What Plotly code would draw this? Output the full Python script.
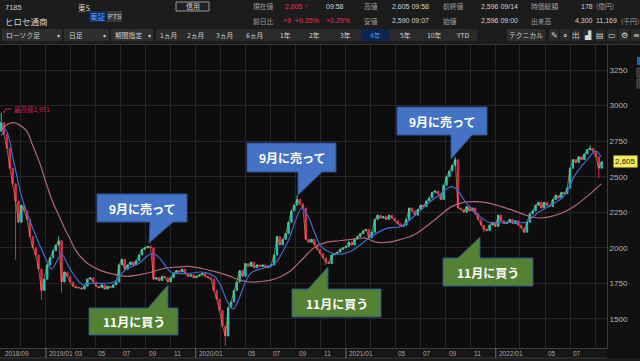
import plotly.graph_objects as go
import pandas as pd

# ---------------- data ----------------
closes = [
    2880, 2800, 2700, 2560, 2450, 2330, 2180, 2300, 2260, 2200,
    2080, 2000, 1950, 1850, 1700, 1780, 1880, 1930, 1980, 2020,
    2050, 1760, 1830, 1800, 1760, 1730, 1720, 1720, 1710, 1730,
    1780, 1790, 1760, 1730, 1720, 1740, 1710, 1730, 1720, 1740,
    1760, 1880, 1920, 1850, 1880, 1900, 1880, 1910, 1950, 1990,
    2000, 2010, 2000, 1780, 1790, 1770, 1800, 1790, 1760, 1790,
    1820, 1840, 1830, 1850, 1820, 1800, 1810, 1790, 1800, 1810,
    1820, 1800, 1790, 1780, 1700, 1640, 1560, 1450, 1380, 1580,
    1620, 1700, 1760, 1840, 1800, 1890, 1870, 1900, 1860, 1880,
    1870, 1880, 1860, 1870, 1880, 1950, 2080, 2020, 2060, 2100,
    2180, 2260, 2300, 2340, 2310, 2280, 2060, 2040, 2060, 2020,
    1990, 1960, 1930, 1900, 1890, 1950, 1960, 1970, 1990, 2000,
    2010, 2040, 2020, 2060, 2080, 2100, 2120, 2130, 2070, 2110,
    2200, 2230, 2210, 2220, 2200, 2230, 2210, 2190, 2170, 2150,
    2160, 2200, 2280, 2260, 2230, 2270, 2300, 2290, 2330, 2350,
    2390, 2400, 2380, 2340, 2440, 2500, 2540, 2580, 2620, 2280,
    2270, 2250, 2290, 2260, 2280, 2240, 2200, 2160, 2130, 2120,
    2160, 2180, 2150, 2230, 2190, 2170, 2180, 2200, 2170, 2190,
    2160, 2140, 2110, 2180, 2240, 2260, 2300, 2320, 2280, 2320,
    2300, 2290, 2340, 2370, 2350, 2390, 2380, 2420, 2560, 2620,
    2600, 2640, 2620, 2660, 2690, 2700, 2680, 2640, 2560, 2605,
]
first_open = 2820
wick_high_idx = [0, 20, 52, 103, 158, 205]
wick_high_val = [2951, 2080, 2020, 2370, 2640, 2720]
wick_low_idx = [5, 14, 21, 78, 113, 168, 182, 208]
wick_low_val = [1917, 1636, 1685, 1310, 1880, 2110, 2100, 2490]

blue_dates = ["2018-09-14", "2018-09-25", "2018-10-15", "2018-11-01", "2018-11-15", "2018-12-01",
              "2018-12-15", "2019-01-01", "2019-01-15", "2019-02-01", "2019-02-10", "2019-02-25",
              "2019-03-15", "2019-04-01", "2019-04-15", "2019-05-15", "2019-06-15", "2019-07-15",
              "2019-08-15", "2019-09-15", "2019-10-01", "2019-10-15", "2019-11-01", "2019-11-15",
              "2019-12-15", "2020-01-15", "2020-02-15", "2020-03-01", "2020-03-15", "2020-04-01",
              "2020-04-15", "2020-05-01", "2020-05-15", "2020-06-15", "2020-07-15", "2020-08-01",
              "2020-08-15", "2020-09-01", "2020-09-15", "2020-10-01", "2020-10-15", "2020-11-01",
              "2020-11-15", "2020-12-15", "2021-01-15", "2021-02-15", "2021-03-15", "2021-04-15",
              "2021-05-15", "2021-06-15", "2021-07-15", "2021-08-15", "2021-09-15", "2021-10-01",
              "2021-10-15", "2021-11-01", "2021-11-15", "2021-12-15", "2022-01-15", "2022-02-15",
              "2022-03-15", "2022-04-15", "2022-05-15", "2022-06-15", "2022-07-15", "2022-08-15",
              "2022-09-01", "2022-09-15"]
blue_vals = [2790, 2830, 2600, 2380, 2250, 2130,
             2030, 1920, 1850, 1930, 1950, 1870,
             1790, 1740, 1750, 1750, 1760, 1850,
             1890, 1960, 1940, 1890, 1830, 1820,
             1820, 1830, 1800, 1740, 1640, 1570,
             1640, 1760, 1825, 1860, 1900, 1980,
             2060, 2200, 2280, 2220, 2120, 2010,
             1980, 1955, 1980, 2045, 2100, 2140,
             2150, 2220, 2300, 2370, 2430, 2400,
             2340, 2280, 2240, 2180, 2180, 2180,
             2180, 2250, 2300, 2360, 2520, 2630,
             2680, 2640]

pink_dates = ["2018-09-12", "2018-09-25", "2018-10-10", "2018-10-25", "2018-11-15", "2018-12-01",
              "2018-12-15", "2019-01-01", "2019-01-15", "2019-02-01", "2019-02-15", "2019-03-01",
              "2019-03-15", "2019-04-01", "2019-04-15", "2019-05-15", "2019-06-15", "2019-07-15",
              "2019-08-15", "2019-09-15", "2019-10-15", "2019-11-15", "2019-12-15", "2020-01-15",
              "2020-02-15", "2020-03-15", "2020-04-15", "2020-05-15", "2020-06-15", "2020-07-15",
              "2020-08-15", "2020-09-15", "2020-10-15", "2020-11-15", "2020-12-15", "2021-01-15",
              "2021-02-15", "2021-03-15", "2021-04-15", "2021-05-15", "2021-06-15", "2021-07-15",
              "2021-08-15", "2021-09-15", "2021-10-15", "2021-11-15", "2021-12-15", "2022-01-15",
              "2022-02-15", "2022-03-15", "2022-04-15", "2022-05-15", "2022-06-15", "2022-07-15",
              "2022-08-15", "2022-09-15"]
pink_vals = [2820, 2860, 2880, 2870, 2820, 2710,
             2610, 2460, 2340, 2230, 2140, 2060,
             1980, 1920, 1885, 1840, 1815, 1800,
             1810, 1830, 1855, 1865, 1870, 1855,
             1835, 1810, 1775, 1760, 1765, 1785,
             1830, 1915, 2000, 2040, 2050, 2060,
             2070, 2040, 2040, 2060, 2090, 2150,
             2220, 2290, 2320, 2325, 2315, 2290,
             2260, 2230, 2210, 2220, 2250, 2300,
             2370, 2450]

y_ticks = [1500, 1750, 2000, 2250, 2500, 2750, 3000, 3250]
x_label_dates = ["2019-01-01", "2019-03-01", "2019-05-01", "2019-07-01", "2019-09-01", "2019-11-01",
                 "2020-01-01", "2020-05-01", "2020-07-01", "2020-09-01", "2020-11-01",
                 "2021-01-01", "2021-05-01", "2021-07-01", "2021-09-01", "2021-11-01",
                 "2022-01-01", "2022-05-01", "2022-07-01"]
x_label_text = ["2019/01", "03", "05", "07", "09", "11",
                "2020/01", "05", "07", "09", "11",
                "2021/01", "05", "07", "09", "11",
                "2022/01", "05", "07"]
year_starts = ["2019-01-01", "2020-01-01", "2021-01-01", "2022-01-01"]
last_price = 2605

callouts = [  # box x0,y0,x1,y1 (px), tail base xa,xb, tip x,y, kind, text
    (97, 194, 187, 222, 150, 173, 149, 243, "sell", "9月に売って"),
    (89, 308, 178, 335, 148, 168, 168, 285, "buy", "11月に買う"),
    (247, 143, 336, 172, 298, 322, 298, 195, "sell", "9月に売って"),
    (292, 289, 381, 317, 308, 328, 328, 267, "buy", "11月に買う"),
    (397, 107, 487, 135, 451, 472, 451, 159, "sell", "9月に売って"),
    (443, 258, 533, 286, 458, 480, 480, 237, "buy", "11月に買う"),
]

# ---------------- build ----------------
JP = "Noto Sans CJK JP"
NUM = "Liberation Sans"
week_dates = pd.date_range("2018-09-14", periods=len(closes), freq="7D")
opens = [first_open] + closes[:-1]
highs = [max(o, c) for o, c in zip(opens, closes)]
lows = [min(o, c) for o, c in zip(opens, closes)]
for i, v in zip(wick_high_idx, wick_high_val):
    highs[i] = v
for i, v in zip(wick_low_idx, wick_low_val):
    lows[i] = v

PR, PT, PB = 607, 45, 348


def X(px):
    return px / PR


def Y(py):
    return (PB - py) / (PB - PT)


fig = go.Figure()
fig.add_trace(go.Candlestick(
    x=week_dates, open=opens, high=highs, low=lows, close=closes,
    increasing=dict(line=dict(color="#22c4bd", width=1), fillcolor="#22c4bd"),
    decreasing=dict(line=dict(color="#e0285a", width=1), fillcolor="#e0285a"),
    whiskerwidth=0, hoverinfo="skip"))
fig.add_trace(go.Scatter(x=week_dates, y=closes, mode="lines",
                         line=dict(color="#d6c23a", width=1), opacity=0.55, hoverinfo="skip"))
fig.add_trace(go.Scatter(x=pink_dates, y=pink_vals, mode="lines", line_shape="spline",
                         line=dict(color="#b46676", width=1.2), hoverinfo="skip"))
fig.add_trace(go.Scatter(x=blue_dates, y=blue_vals, mode="lines", line_shape="spline",
                         line=dict(color="#3a6ed2", width=1.2), hoverinfo="skip"))

shapes = []
ann = []


def rect(x0, y0, x1, y1, fill, line=None, lw=1):
    shapes.append(dict(type="rect", xref="paper", yref="paper",
                       x0=X(x0), x1=X(x1), y0=Y(y1), y1=Y(y0), fillcolor=fill,
                       line=dict(color=line or fill, width=lw if line else 0), layer="below"))


def txt(x, y, s, size=8, color="#cfcfcf", anchor="left", family=JP):
    ann.append(dict(x=X(x), y=Y(y), xref="paper", yref="paper", text=s, showarrow=False,
                    xanchor=anchor, yanchor="middle", font=dict(size=size, color=color, family=family)))


# header background
rect(0, 0, 640, 44, "#1c1c1c")
rect(0, 44, 640, 45, "#333333")
# bottom label band
rect(0, 348, 607, 358, "#161616")
rect(0, 358, 640, 361, "#1c1c1c")
shapes.append(dict(type="line", xref="paper", yref="paper", x0=0, x1=X(607), y0=Y(358), y1=Y(358),
                   line=dict(color="#3a3a3a", width=1)))
for d in year_starts:
    shapes.append(dict(type="line", xref="x", yref="paper", x0=d, x1=d, y0=Y(348), y1=Y(358),
                       line=dict(color="#707070", width=1)))
# right-edge panel remnants
rect(637, 57, 640, 65, "#1f5fbf")
rect(637, 68, 640, 77, "#2e2e2e", "#555555")
rect(637, 79, 640, 88, "#2e2e2e", "#555555")

# x labels
LBL = dict(size=6.5, color="#a8a8a8", family=NUM)
ann.append(dict(x=X(3), y=Y(353), xref="paper", yref="paper", text="2018/09", showarrow=False,
                xanchor="left", yanchor="middle", font=LBL))
for d, t in zip(x_label_dates, x_label_text):
    shift = 3 if t == "03" else 1
    ann.append(dict(x=d, y=Y(353), xref="x", yref="paper", text=t, showarrow=False, xshift=shift,
                    xanchor="left", yanchor="middle", font=LBL))

# last price tag
ann.append(dict(x=X(613), y=last_price, xref="paper", yref="y", text="2,605", showarrow=False,
                xanchor="left", yanchor="middle", bgcolor="#f3ea5c", borderpad=1,
                font=dict(size=8, color="#222222", family=NUM)))

# max marker
shapes.append(dict(type="path", xref="paper", yref="paper",
                   path=f"M {X(4)},{Y(112)} L {X(6)},{Y(109)} L {X(11)},{Y(109)}",
                   line=dict(color="#c8205a", width=1)))
shapes.append(dict(type="circle", xref="paper", yref="paper", x0=X(3), x1=X(5), y0=Y(113), y1=Y(111),
                   fillcolor="#c8205a", line=dict(width=0)))
txt(12, 109, "最高値2,951", size=6.5, color="#c8205a")

# callouts
for (bx0, by0, bx1, by1, ta, tb, tx, ty, kind, s) in callouts:
    fill = "#4472c4" if kind == "sell" else "#548235"
    if kind == "sell":
        pts = [(bx0, by0), (bx1, by0), (bx1, by1), (tb, by1), (tx, ty), (ta, by1), (bx0, by1)]
    else:
        pts = [(bx0, by0), (ta, by0), (tx, ty), (tb, by0), (bx1, by0), (bx1, by1), (bx0, by1)]
    path = "M " + " L ".join(f"{X(a)},{Y(b)}" for a, b in pts) + " Z"
    shapes.append(dict(type="path", xref="paper", yref="paper", path=path, fillcolor=fill,
                       line=dict(color="#2f528f", width=1), layer="above"))
    ann.append(dict(x=X((bx0 + bx1) / 2), y=Y((by0 + by1) / 2), xref="paper", yref="paper",
                    text=f"<b>{s}</b>", showarrow=False, xanchor="center", yanchor="middle",
                    font=dict(size=12, color="#ffffff", family=JP)))

# header texts
G = "#a0a0a0"
W_ = "#d2d2d2"
R = "#e8305a"
txt(3, 7, "7185", 7.5, W_, family=NUM)
txt(3, 21, "ヒロセ通商", 8.5, W_)
txt(76, 7, "東S", 7.5, W_)
rect(89, 11, 106, 22, "#0c2f62")
txt(97.5, 16.5, "東証", 7.5, "#5ea2ff", "center")
rect(107, 11, 122, 22, "#3a3a3a")
txt(114.5, 16.5, "PTS", 7, W_, "center", NUM)
rect(176, 2, 209, 11, "#202020", "#9a9a9a")
txt(192.5, 6.5, "信用", 7, W_, "center")
row1 = [(251, "現在値", G, JP), (283, "2,605 ↑", R, NUM), (324, "09:58", W_, NUM), (362, "高値", G, JP),
        (390, "2,605 09:58", W_, NUM), (441, "前終値", G, JP), (479, "2,596 09/14", W_, NUM),
        (529, "時価総額", G, JP), (579, "178", W_, NUM), (594, "(億円)", G, JP)]
row2 = [(251, "前日比", G, JP), (281, "+9  +0.35%", R, NUM), (324, "+0.29%", R, NUM), (362, "安値", G, JP),
        (390, "2,590 09:07", W_, NUM), (441, "始値", G, JP), (479, "2,596 09:00", W_, NUM),
        (529, "出来高", G, JP), (573, "4,300", W_, NUM), (594, "11,169", W_, NUM), (619, "(千円)", G, JP)]
for x, s, c, f in row1:
    txt(x, 6.5, s, 7 if f == NUM else 6.8, c, family=f)
for x, s, c, f in row2:
    txt(x, 21, s, 7 if f == NUM else 6.8, c, family=f)

# toolbar
ty_ = 35
TB = 6.8
rect(2, 29, 62, 41, "#2e2e2e")
txt(4, ty_, "ローソク足", TB, W_)
txt(58, ty_, "▾", 6, W_, "center")
rect(64, 29, 109, 41, "#2e2e2e")
txt(67, ty_, "日足", TB, W_)
txt(104, ty_, "▾", 6, W_, "center")
rect(111, 29, 153, 41, "#2e2e2e")
txt(113, ty_, "期間指定", TB, W_)
txt(149, ty_, "▾", 6, W_, "center")
rect(156, 29, 477, 41, "#2a2a2a")
rect(361, 29, 389, 41, "#0b2650")
btns = [(168, "1ヵ月"), (196, "2ヵ月"), (224, "3ヵ月"), (254, "6ヵ月"), (285, "1年"), (314, "2年"),
        (345, "3年"), (375, "4年"), (405, "5年"), (434, "10年"), (463, "YTD")]
for x, s in btns:
    txt(x, ty_, s, TB, "#4d8fe0" if s == "4年" else W_, "center")
rect(507, 29, 545, 41, "#2e2e2e")
txt(526, ty_, "テクニカル", TB, W_, "center")
icons = [(554, "✎"), (565, "⌕"), (576, "出"), (588, "▟"), (600, "▤"), (612, "▭"), (624, "⚙"), (636, "≡")]
for x, s in icons:
    rect(x - 5, 29, x + 5, 41, "#2a2a2a")
    txt(x, ty_, s, 8, "#d8d8d8", "center", "DejaVu Sans")

grid_dates = pd.date_range("2018-11-01", "2022-09-01", freq="2MS")

fig.update_layout(
    width=640, height=361, margin=dict(l=0, r=33, t=45, b=13, pad=0),
    paper_bgcolor="#111111", plot_bgcolor="#0d0d0d", showlegend=False,
    font=dict(family=JP),
    shapes=shapes, annotations=ann,
    xaxis=dict(range=["2018-09-11", "2022-09-29"], rangeslider=dict(visible=False),
               tickvals=grid_dates, showticklabels=False, showgrid=True, gridcolor="#252525",
               gridwidth=1, ticks="", showline=True, linecolor="#3c3c3c", zeroline=False),
    yaxis=dict(range=[1296, 3426], side="right", tickvals=y_ticks,
               ticktext=[str(v) for v in y_ticks], showgrid=True, gridcolor="#252525",
               tickfont=dict(size=8, color="#b4b4b4", family=NUM),
               showline=True, linecolor="#3c3c3c", zeroline=False, ticks=""),
)

fig.write_html("out.html", config={"displayModeBar": False},
               post_script="document.body.style.margin='0';document.body.style.overflow='hidden';"
                           "document.body.style.background='#111111';")
